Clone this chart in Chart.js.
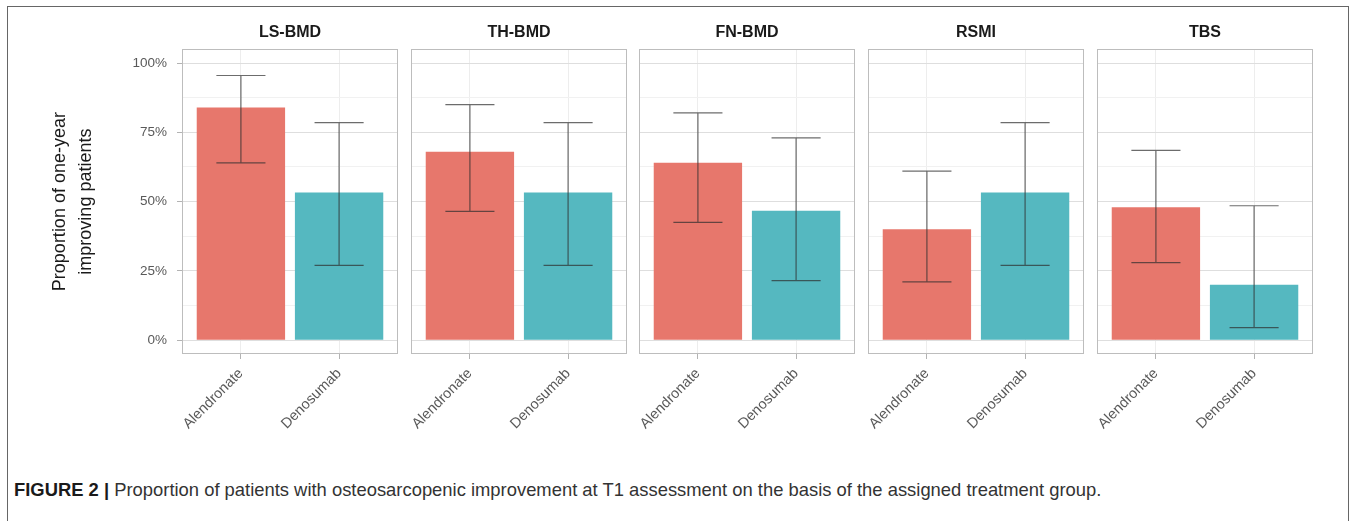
<!DOCTYPE html>
<html>
<head>
<meta charset="utf-8">
<title>Figure 2</title>
<script src="https://cdn.jsdelivr.net/npm/chart.js@4.4.1/dist/chart.umd.min.js"></script>
<style>
  html, body { margin: 0; padding: 0; background: #fff; }
  body { width: 1358px; height: 521px; position: relative; overflow: hidden; font-family: "Liberation Sans", Arial, sans-serif; }
  .frame { position: absolute; left: 7px; top: 6px; width: 1342px; height: 560px; border: 1px solid #666; box-sizing: border-box; }
  .panel { position: absolute; top: 0; }
  .caption { position: absolute; left: 14px; top: 479px; font-size: 18.4px; line-height: 22px; color: #333; white-space: nowrap; }
  .caption b { color: #1a1a1a; }
</style>
</head>
<body>
<div class="frame"></div>
<div id="panels"></div>
<div class="caption"><b>FIGURE 2 |</b> Proportion of patients with osteosarcopenic improvement at T1 assessment on the basis of the assigned treatment group.</div>

<script>
// ---- data ----
const panels = ['LS-BMD', 'TH-BMD', 'FN-BMD', 'RSMI', 'TBS'];
const groups = ['Alendronate', 'Denosumab'];

const alendronate     = [0.84, 0.68, 0.64, 0.40, 0.48];
const alendronateLow  = [0.64, 0.465, 0.425, 0.21, 0.28];
const alendronateHigh = [0.955, 0.85, 0.82, 0.61, 0.685];

const denosumab     = [0.533, 0.533, 0.467, 0.533, 0.20];
const denosumabLow  = [0.27, 0.27, 0.215, 0.27, 0.045];
const denosumabHigh = [0.785, 0.785, 0.73, 0.785, 0.485];

const yTicks = [0, 0.25, 0.5, 0.75, 1];
const yTickLabels = ['0%', '25%', '50%', '75%', '100%'];

// ---- look ----
const RED = '#E7776C';
const TEAL = '#55B8C0';
const PANEL_LEFT = 182, PANEL_PITCH = 228.7, PANEL_W = 216;
const CANVAS_H = 470, PLOT_BOTTOM = 354;
const PAD_L = 60, PAD_R = 10;

function isMajor(v) { return yTicks.some(t => Math.abs(t - v) < 1e-9); }

// panel frame around the plot area
const panelBorder = {
    id: 'panelBorder',
    afterDraw(chart) {
        const { ctx, chartArea: a } = chart;
        ctx.save();
        ctx.strokeStyle = '#bdbdbd';
        ctx.lineWidth = 1;
        ctx.strokeRect(Math.round(a.left) + 0.5, Math.round(a.top) + 0.5, Math.round(a.width) - 1, Math.round(a.height) - 1);
        ctx.restore();
    }
};

// whiskers drawn through the chart's own scales
const errorBars = {
    id: 'errorBars',
    afterDatasetsDraw(chart, args, opts) {
        const { ctx, scales: { x, y } } = chart;
        ctx.save();
        ctx.strokeStyle = 'rgba(45,45,45,0.7)';
        ctx.lineWidth = 1.2;
        opts.low.forEach((lo, i) => {
            const hi = opts.high[i];
            const cx = x.getPixelForValue(i + 1);
            const x0 = x.getPixelForValue(i + 1 - 0.25);
            const x1 = x.getPixelForValue(i + 1 + 0.25);
            const yl = y.getPixelForValue(lo);
            const yh = y.getPixelForValue(hi);
            ctx.beginPath();
            ctx.moveTo(cx, yl); ctx.lineTo(cx, yh);
            ctx.moveTo(x0, yl); ctx.lineTo(x1, yl);
            ctx.moveTo(x0, yh); ctx.lineTo(x1, yh);
            ctx.stroke();
        });
        ctx.restore();
    }
};

function makePanel(i) {
    const first = i === 0;
    const panelX = Math.round(PANEL_LEFT + i * PANEL_PITCH);
    const left = first ? 0 : panelX - PAD_L;
    const width = first ? PANEL_LEFT + PANEL_W + PAD_R : PAD_L + PANEL_W + PAD_R;

    const canvas = document.createElement('canvas');
    canvas.className = 'panel';
    canvas.width = width;
    canvas.height = CANVAS_H;
    canvas.style.left = left + 'px';
    canvas.style.width = width + 'px';
    canvas.style.height = CANVAS_H + 'px';
    document.getElementById('panels').appendChild(canvas);

    return new Chart(canvas, {
        type: 'bar',
        data: {
            datasets: [{
                data: [{ x: 1, y: alendronate[i] }, { x: 2, y: denosumab[i] }],
                backgroundColor: [RED, TEAL],
                borderWidth: 0,
                barPercentage: 0.9,
                categoryPercentage: 1
            }]
        },
        options: {
            responsive: false,
            animation: false,
            layout: { padding: { left: first ? 0 : PAD_L, right: PAD_R, top: 0, bottom: 0 } },
            plugins: {
                legend: { display: false },
                tooltip: { enabled: false },
                title: {
                    display: true,
                    text: panels[i],
                    fullSize: false,
                    color: '#1a1a1a',
                    font: { family: '"Liberation Sans", Arial, sans-serif', size: 16, weight: 'bold', lineHeight: 1.2 },
                    padding: { top: 23, bottom: 7 }
                },
                errorBars: {
                    low: [alendronateLow[i], denosumabLow[i]],
                    high: [alendronateHigh[i], denosumabHigh[i]]
                }
            },
            scales: {
                x: {
                    type: 'linear',
                    min: 0.4,
                    max: 2.6,
                    bounds: 'data',
                    offset: false,
                    afterBuildTicks: s => { s.ticks = groups.map((g, k) => ({ value: k + 1 })); },
                    afterFit: s => { s.height = CANVAS_H - PLOT_BOTTOM; },
                    border: { display: false },
                    grid: { offset: false, color: '#ededed', tickColor: '#b3b3b3', tickLength: 5, drawTicks: true },
                    ticks: {
                        autoSkip: false,
                        minRotation: 45,
                        maxRotation: 45,
                        padding: 6,
                        color: '#595959',
                        font: { family: '"Liberation Sans", Arial, sans-serif', size: 14.5 },
                        callback: (v, k) => groups[k]
                    }
                },
                y: {
                    min: -0.05,
                    max: 1.05,
                    afterBuildTicks: s => {
                        const t = [];
                        yTicks.forEach((v, k) => {
                            t.push({ value: v });
                            if (k < yTicks.length - 1) t.push({ value: (v + yTicks[k + 1]) / 2 });
                        });
                        s.ticks = t;
                    },
                    afterFit: s => { s.width = first ? PANEL_LEFT : 0; },
                    border: { display: false },
                    grid: {
                        color: c => (c.tick && isMajor(c.tick.value)) ? '#dedede' : '#f1f1f1',
                        tickColor: c => (c.tick && isMajor(c.tick.value)) ? '#b3b3b3' : 'rgba(0,0,0,0)',
                        drawTicks: first,
                        tickLength: 5
                    },
                    ticks: {
                        display: first,
                        padding: 10,
                        color: '#595959',
                        font: { family: '"Liberation Sans", Arial, sans-serif', size: 13.5 },
                        callback: v => {
                            const k = yTicks.findIndex(t => Math.abs(t - v) < 1e-9);
                            return k >= 0 ? yTickLabels[k] : '';
                        }
                    },
                    title: {
                        display: first,
                        text: ['Proportion of one-year', 'improving patients'],
                        color: '#1a1a1a',
                        font: { family: '"Liberation Sans", Arial, sans-serif', size: 18, lineHeight: 1.45 },
                        padding: { top: 47, bottom: 0 }
                    }
                }
            }
        },
        plugins: [panelBorder, errorBars]
    });
}

panels.forEach((p, i) => makePanel(i));
</script>
</body>
</html>
